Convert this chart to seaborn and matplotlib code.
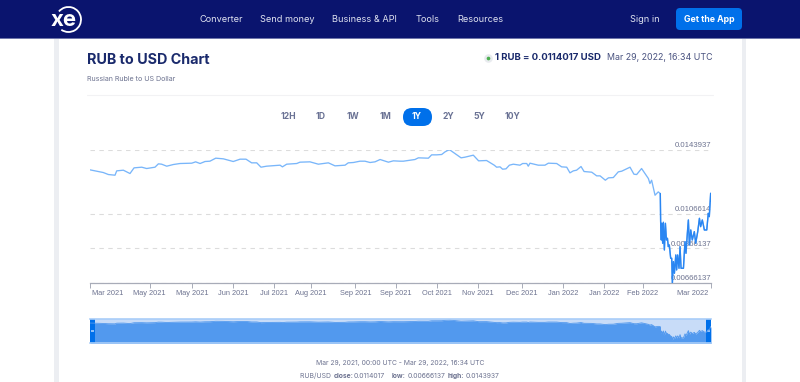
import matplotlib
matplotlib.use("Agg")
import matplotlib.pyplot as plt
import matplotlib.patches as mp
import matplotlib.transforms as mt
import numpy as np
import pandas as pd
import seaborn as sns

start_date = "2021-03-29"
day_offsets = [0,3.9,7.8,10.8,14.7,15.7,19.6,23.5,25.9,30.4,33.3,38.2,40.2,42.1,45.1,49.0,52.9,59.8,62.1,64.7,67.6,70.5,73.9,78.4,84.2,88.2,91.7,95.0,98.0,100.5,103.8,111.7,113.1,115.6,121.5,123.4,129.3,134.2,140.1,144.0,149.9,151.8,154.8,158.7,161.6,164.6,167.5,170.5,175.4,178.3,182.2,
184.2,191.0,193.0,198.9,200.8,203.8,206.7,208.7,211.2,214.5,218.1,220.4,225.3,228.4,233.1,237.6,239.0,241.0,242.5,244.5,246.5,248.8,252.7,254.3,256.7,257.6,258.6,263.5,267.4,269.4,274.3,277.2,280.2,282.1,284.1,286.0,288.6,290.4,294.9,297.8,299.8,302.9,304.7,307.6,310.5,312.5,317.4,
319.7,321.3,324.2,326.2,328.2,329.1,330.1,332.1,334.0,335.2,
335.4,335.8,336.0,336.6,337.0,337.6,338.2,338.8,339.4,339.9,340.5,341.3,341.9,342.3,342.9,343.5,344.3,344.8,345.4,346.2,346.8,347.4,348.8,349.7,350.3,351.1,351.7,352.3,353.1,354.0,355.2,356.0,357.2,358.2,358.9,359.9,361.1,362.5,363.4,364.0,364.8,365]
rates = [0.013215,0.013137,0.013060,0.012944,0.012905,0.013157,0.013195,0.013002,0.013331,0.013369,0.013292,0.013369,0.013563,0.013543,0.013427,0.013524,0.013582,0.013601,0.013679,0.013582,0.013698,0.013717,0.013891,0.013853,0.013698,0.013833,0.013833,0.013621,0.013621,0.013369,0.013427,0.013485,0.013389,0.013543,0.013582,0.013659,0.013679,0.013543,0.013621,0.013447,0.013485,0.013621,0.013640,0.013717,0.013717,0.013640,0.013679,0.013814,0.013659,0.013737,0.013717,
0.013717,0.013814,0.013911,0.013891,0.014084,0.014084,0.014104,0.014258,0.014390,0.014162,0.013911,0.013949,0.014065,0.013737,0.013756,0.013485,0.013369,0.013389,0.013253,0.013273,0.013485,0.013543,0.013485,0.013582,0.013582,0.013427,0.013601,0.013485,0.013485,0.013601,0.013582,0.013389,0.013369,0.013041,0.013157,0.013195,0.013408,0.013118,0.013079,0.012867,0.012867,0.012615,0.012751,0.012770,0.013099,0.013137,0.013369,
0.012963,0.012944,0.013292,0.013002,0.012712,0.012422,0.012615,0.011745,0.011939,0.011842,
0.010215,0.009154,0.010119,0.008961,0.010177,0.008575,0.010119,0.009154,0.009251,0.008768,0.008864,0.008093,0.008093,0.00666137,0.007900,0.007224,0.008285,0.007417,0.008285,0.007514,0.008768,0.007514,0.007514,0.009057,0.008382,0.009540,0.010312,0.008864,0.009733,0.009154,0.009637,0.008961,0.009637,0.010408,0.009926,0.010312,0.009733,0.009733,0.010698,0.010505,0.011856,0.011402]
y_ticks = [0.00666137, 0.00866137, 0.0106614, 0.0143937]
y_tick_labels = ["0.00666137", "0.00866137", "0.0106614", "0.0143937"]
x_tick_dates = ["2021-03-29","2021-05-03","2021-05-28","2021-06-21","2021-07-15","2021-08-06","2021-09-01","2021-09-25","2021-10-19","2021-11-12","2021-12-08","2022-01-01","2022-01-25","2022-02-17","2022-03-29"]
x_tick_labels = ["Mar 2021","May 2021","May 2021","Jun 2021","Jul 2021","Aug 2021","Sep 2021","Sep 2021","Oct 2021","Nov 2021","Dec 2021","Jan 2022","Jan 2022","Feb 2022","Mar 2022"]
range_buttons = ["12H","1D","1W","1M","1Y","2Y","5Y","10Y"]
nav_items = ["Converter","Send money","Business & API","Tools","Resources","Sign in"]
crash_day = 335.2

df = pd.DataFrame({"day": day_offsets, "date": pd.Timestamp(start_date) + pd.to_timedelta(day_offsets, unit="D"), "rate": rates})
x0, x1 = pd.Timestamp(start_date), pd.Timestamp("2022-03-29")

sns.set_theme(style="white")
plt.rcParams["font.family"] = ["Inter", "DejaVu Sans"]
CHART_FONT = ["Liberation Sans", "DejaVu Sans"]
W, H = 800, 382
fig = plt.figure(figsize=(8, 3.82), dpi=100, facecolor="white")

def place(l, t, r, b, **kw):
    return fig.add_axes([l/W, 1-b/H, (r-l)/W, (b-t)/H], **kw)

# page chrome, in pixel coordinates
bg = place(0, 0, W, H, zorder=0)
bg.set_xlim(0, W); bg.set_ylim(H, 0); bg.axis("off")
NAVY, BLUE, INK, GREY = "#0a146e", "#0070ea", "#1a2a6c", "#6d7390"
bg.add_patch(mp.Rectangle((0, 0), W, 38, color=NAVY, lw=0))
bg.add_patch(mp.Rectangle((0, 38), W, 1, color="#6f76ab", lw=0))
bg.add_patch(mp.Rectangle((54, 39), 5, H, color="#eceef2", lw=0))
bg.add_patch(mp.Rectangle((742, 39), 4, H, color="#eceef2", lw=0))
bg.text(63.5, 19.5, "xe", color="white", fontsize=16, fontweight="bold", ha="center", va="center")
bg.add_patch(mp.Arc((68.5, 19.5), 25, 25, theta1=-140, theta2=125, color="white", lw=1.3))
for s, x in zip(nav_items, [199, 260, 332, 416, 457, 630]):
    bg.text(x, 19, s, color="#dfe2f0", fontsize=6.6, va="center", ha="left")
bg.add_patch(mp.FancyBboxPatch((676, 8), 66, 22, boxstyle="round,pad=0,rounding_size=4", color=BLUE, lw=0))
bg.text(709, 19, "Get the App", color="white", fontsize=6.3, fontweight="bold", ha="center", va="center")
bg.text(87, 59.5, "RUB to USD Chart", color=INK, fontsize=10.3, fontweight="bold", va="center")
bg.text(87, 79, "Russian Ruble to US Dollar", color=GREY, fontsize=5.15, va="center")
bg.plot([87, 713], [95, 95], color="#f2f2f4", lw=0.8)
bg.scatter([488], [58], s=38, color="#e9ebef", lw=0)
bg.scatter([488], [58], s=7, color="#4caf50", lw=0)
bg.text(495, 57.5, "1 RUB = 0.0114017 USD", color=INK, fontsize=6.9, fontweight="bold", va="center")
bg.text(713, 57.5, "Mar 29, 2022, 16:34 UTC", color="#4a5380", fontsize=6.4, ha="right", va="center")
bg.add_patch(mp.FancyBboxPatch((403, 108), 29, 18, boxstyle="round,pad=0,rounding_size=9", color=BLUE, lw=0))
for s, x in zip(range_buttons, [288, 321, 353, 385, 417, 448, 479, 512]):
    bg.text(x, 116.5, s, color="white" if s == "1Y" else "#6a7294", fontsize=6.2, fontweight="bold", ha="center", va="center")
bg.text(400, 363, "Mar 29, 2021, 00:00 UTC - Mar 29, 2022, 16:34 UTC", color=GREY, fontsize=4.9, ha="center", va="center")
for s, x, b in [("RUB/USD ", 300, False), ("close:", 334, True), ("0.0114017", 354, False), ("low:", 392, True),
                ("0.00666137", 408, False), ("high:", 448, True), ("0.0143937", 466, False)]:
    bg.text(x, 376, s, color=GREY, fontsize=4.9, va="center", fontweight="bold" if b else "normal")

# main chart
ax = place(90, 149.5, 711, 283, zorder=2)
ax.patch.set_alpha(0)
sns.lineplot(data=df, x="date", y="rate", ax=ax, color="#79b6fa", lw=0.95, estimator=None, sort=False, zorder=3)
sns.lineplot(data=df[df["day"] >= crash_day], x="date", y="rate", ax=ax, color="#2a86f2", lw=1.0, estimator=None, sort=False, zorder=4)
ax.set_xlim(x0, x1); ax.set_ylim(y_ticks[0], y_ticks[-1])
ax.set_xlabel(""); ax.set_ylabel("")
ax.set_yticks(y_ticks); ax.set_yticklabels([])
ax.grid(axis="y", color="#dcdcdc", ls=(0, (4, 4)), lw=0.8)
ax.grid(axis="x", visible=False)
ax.tick_params(axis="y", length=0)
for s in ["top", "left", "right"]:
    ax.spines[s].set_visible(False)
ax.spines["bottom"].set_color("#a8acb8"); ax.spines["bottom"].set_linewidth(0.9)
for v, s in zip(y_ticks, y_tick_labels):
    ax.annotate(s, xy=(x1, v), xytext=(0, 3.0), textcoords="offset points", color=GREY, family=CHART_FONT,
                fontsize=5.6, ha="right", va="center", annotation_clip=False, zorder=1)
ax.set_xticks(pd.to_datetime(x_tick_dates)); ax.set_xticklabels(x_tick_labels, color=GREY, fontsize=5.3, family=CHART_FONT)
ax.tick_params(axis="x", length=3.5, width=0.7, color="#a8acb8", pad=1.5, bottom=True)
labs = ax.get_xticklabels()
labs[0].set_ha("left"); labs[-1].set_ha("right")
labs[0].set_transform(labs[0].get_transform() + mt.ScaledTranslation(2/100, 0, fig.dpi_scale_trans))
labs[-1].set_transform(labs[-1].get_transform() + mt.ScaledTranslation(-3/100, 0, fig.dpi_scale_trans))

# navigator
nv = place(90, 319, 711, 343, zorder=2)
nv.set_facecolor("#c8dcf8")
sns.lineplot(data=df, x="date", y="rate", ax=nv, color="#5299ee", lw=0.6, estimator=None, sort=False)
nv.fill_between(df["date"], df["rate"], 0, color="#5299ee", lw=0)
nv.set_xlim(x0, x1); nv.set_ylim(0.00553, 0.01477)
nv.set_xlabel(""); nv.set_ylabel(""); nv.set_xticks([]); nv.set_yticks([])
for s in ["left", "right"]:
    nv.spines[s].set_visible(False)
for s in ["top", "bottom"]:
    nv.spines[s].set_color("#a9cdf8"); nv.spines[s].set_linewidth(1.2)
for l, r in [(0, 0.008), (0.992, 1)]:
    nv.axvspan(x0 + (x1-x0)*l, x0 + (x1-x0)*r, color=BLUE, lw=0)
    nv.axvspan(x0 + (x1-x0)*(l+0.002), x0 + (x1-x0)*(r-0.002), ymin=0.47, ymax=0.53, color="#8fc0f8", lw=0)

fig.savefig("out.png", dpi=100)
